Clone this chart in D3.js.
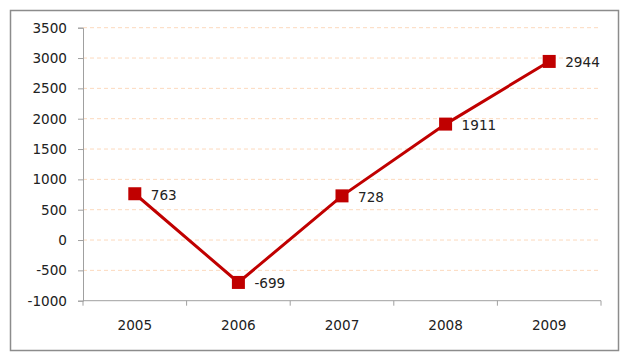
<!DOCTYPE html>
<html><head><meta charset="utf-8">
<script src="https://cdn.jsdelivr.net/npm/d3@7"></script>
<style>body{margin:0;background:#fff}svg{display:block}text{font-family:"DejaVu Sans",Verdana,sans-serif;fill:#222}</style>
</head><body>
<script>
const categories = ["2005","2006","2007","2008","2009"];
const values = [763, -699, 728, 1911, 2944];
const yTicks = [-1000,-500,0,500,1000,1500,2000,2500,3000,3500];

(function(){
const W = 628, H = 362, FS = 13.6;
const svg = d3.select("body").append("svg").attr("width", W).attr("height", H);
svg.append("rect").attr("x",10.5).attr("y",10.5).attr("width",608).attr("height",340)
  .attr("fill","#fff").attr("stroke","#8c8c8c").attr("stroke-width",1.5);

const pLeft = 83, pRight = 601, pTop = 27.7, pBottom = 300.7;
const x = d3.scaleBand().domain(categories).range([pLeft, pRight]);
const y = d3.scaleLinear().domain([-1000, 3500]).range([pBottom, pTop]);

// gridlines
svg.append("g").selectAll("line").data(yTicks.filter(t => t > -1000)).join("line")
  .attr("x1", pLeft).attr("x2", 598).attr("y1", d => y(d)).attr("y2", d => y(d))
  .attr("stroke", "#fcd9bd").attr("stroke-width", 1).attr("stroke-dasharray", "4,3");

// y axis
const ya = svg.append("g").attr("transform", `translate(${pLeft},0)`)
  .call(d3.axisLeft(y).tickValues(yTicks).tickSize(5).tickPadding(11).tickFormat(d => String(d)));
ya.attr("font-size", FS);
ya.select(".domain").attr("stroke", "#a0a0a0");
ya.selectAll(".tick line").attr("stroke", "#a0a0a0");
ya.selectAll("text").style("font-size", FS + "px").attr("fill", "#222");

// x axis
const xa = svg.append("g").attr("transform", `translate(0,${pBottom})`)
  .call(d3.axisBottom(x).tickSize(0).tickPadding(20));
xa.attr("font-size", FS);
xa.select(".domain").attr("stroke", "#a0a0a0").attr("d", `M${pLeft},0H${pRight}`);
xa.selectAll("text").style("font-size", FS + "px").attr("fill", "#222");
const bounds = categories.map(c => x(c)).concat([pRight]);
xa.selectAll(".sep").data(bounds).join("line").attr("class","sep")
  .attr("x1", d => d).attr("x2", d => d).attr("y1", 0).attr("y2", 5).attr("stroke", "#a0a0a0");

const pts = categories.map((c, i) => ({c, v: values[i]}));
const cx = d => x(d.c) + x.bandwidth() / 2;

svg.append("path").datum(pts)
  .attr("d", d3.line().x(cx).y(d => y(d.v)))
  .attr("fill", "none").attr("stroke", "#c00000").attr("stroke-width", 3);

svg.append("g").selectAll("rect").data(pts).join("rect")
  .attr("x", d => cx(d) - 6.5).attr("y", d => y(d.v) - 6.5)
  .attr("width", 13).attr("height", 13).attr("fill", "#c00000");

svg.append("g").selectAll("text").data(pts).join("text")
  .attr("x", d => cx(d) + 16).attr("y", d => y(d.v) + 6)
  .style("font-size", FS + "px").text(d => String(d.v));
})();
</script>
</body></html>
